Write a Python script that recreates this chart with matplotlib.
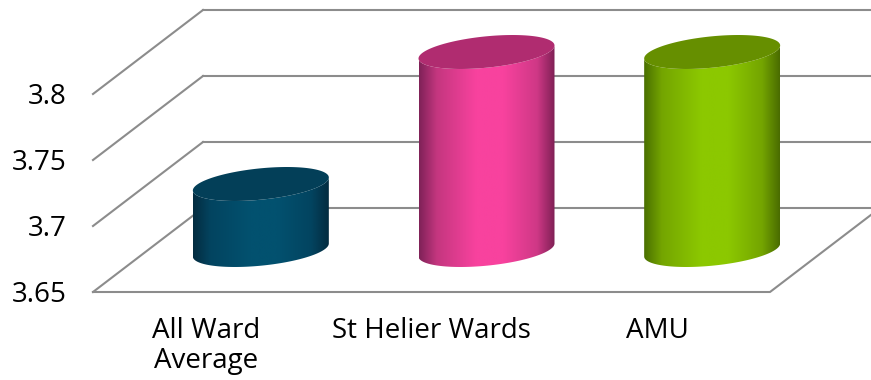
import numpy as np
import matplotlib
matplotlib.use("Agg")
import matplotlib.pyplot as plt
from matplotlib.colors import LinearSegmentedColormap
from matplotlib.patches import Polygon

categories = ["All Ward\nAverage", "St Helier Wards", "AMU"]
values = [3.70, 3.80, 3.80]
y_ticks = [3.65, 3.7, 3.75, 3.8]
y_labels = ["3.65", "3.7", "3.75", "3.8"]

# edge, shoulder, centre, centre, shoulder, edge + flat colour of the cap
bar_shades = [
    ["#032c40", "#034460", "#02516f", "#02516f", "#034460", "#032c40"],
    ["#7f2258", "#c4367f", "#f8429e", "#f8429e", "#cf3886", "#7f2055"],
    ["#4a7000", "#74a500", "#8cc800", "#8cc800", "#74a500", "#4a6c00"],
]
cap_colors = ["#033f58", "#b02c70", "#668f00"]
shade_stops = [0, 0.13, 0.42, 0.62, 0.87, 1]
GRID = "#8c8c8c"

W, H = 871, 380
LEFT, RIGHT, BOTTOM, TOP = 93, 770, 292, 94

# how far one full step of depth moves a point, in data units
DEPTH_X = 110 / 225.67
DEPTH_Y = 84 / 66 * 0.05
# cylinder shape in data units
RAD_X = 68 / 225.67
RAD_Y = 15.7 / 66 * 0.05
TILT = 6.5 / 66 * 0.05

fig = plt.figure(figsize=(W / 100, H / 100), dpi=100)
plt.rcParams["font.family"] = "Open Sans"
ax = fig.add_axes([LEFT / W, 1 - BOTTOM / H, (RIGHT - LEFT) / W, (BOTTOM - TOP) / H])


def ring(cx, cy, t):
    return cx + RAD_X * np.cos(t), cy + RAD_Y * np.sin(t) + TILT * np.cos(t)


x0, x1 = -0.5, 2.5
floor = y_ticks[0]

# back wall and left wall lines
for y in y_ticks:
    ax.plot([x0 + DEPTH_X, x1 + DEPTH_X], [y + DEPTH_Y, y + DEPTH_Y], color=GRID, lw=1.5, clip_on=False, zorder=1)
    ax.plot([x0, x0 + DEPTH_X], [y, y + DEPTH_Y], color=GRID, lw=1.5, clip_on=False, zorder=1)
# front and right edges of the floor
ax.plot([x0, x1, x1 + DEPTH_X], [floor, floor, floor + DEPTH_Y], color=GRID, lw=1.5, clip_on=False, zorder=1)

# cylinders
for i, v in enumerate(values):
    cx = i + DEPTH_X / 2
    base = floor + DEPTH_Y / 2
    top = v + DEPTH_Y / 2
    t = np.linspace(np.pi, 2 * np.pi, 80)
    bx, by = ring(cx, base, t)
    tx, ty = ring(cx, top, t[::-1])
    body = Polygon(np.column_stack([np.r_[bx, tx], np.r_[by, ty]]), closed=True, transform=ax.transData, fc="none", ec="none")
    ax.add_patch(body)
    cmap = LinearSegmentedColormap.from_list("shade", list(zip(shade_stops, bar_shades[i])))
    im = ax.imshow(np.linspace(0, 1, 256).reshape(1, -1), cmap=cmap, aspect="auto", zorder=3,
                   extent=[cx - RAD_X, cx + RAD_X, base - 2 * RAD_Y, top + 2 * RAD_Y])
    im.set_clip_box(fig.bbox)
    im.set_clip_path(body)
    t = np.linspace(0, 2 * np.pi, 160)
    cap_x, cap_y = ring(cx, top, t)
    ax.fill(cap_x, cap_y, color=cap_colors[i], lw=0, zorder=4, clip_on=False)

ax.set_xlim(x0, x1)
ax.set_ylim(y_ticks[0], y_ticks[-1])
ax.set_xticks(range(len(categories)))
ax.set_xticklabels(categories, fontsize=20, linespacing=1.08)
ax.set_yticks(y_ticks)
ax.set_yticklabels(y_labels, fontsize=20)
ax.tick_params(axis="x", length=0, pad=18, colors="black")
ax.tick_params(axis="y", length=0, pad=19, colors="black")
for s in ax.spines.values():
    s.set_visible(False)
ax.patch.set_alpha(0)

fig.savefig("out.png", dpi=100, facecolor="white")
